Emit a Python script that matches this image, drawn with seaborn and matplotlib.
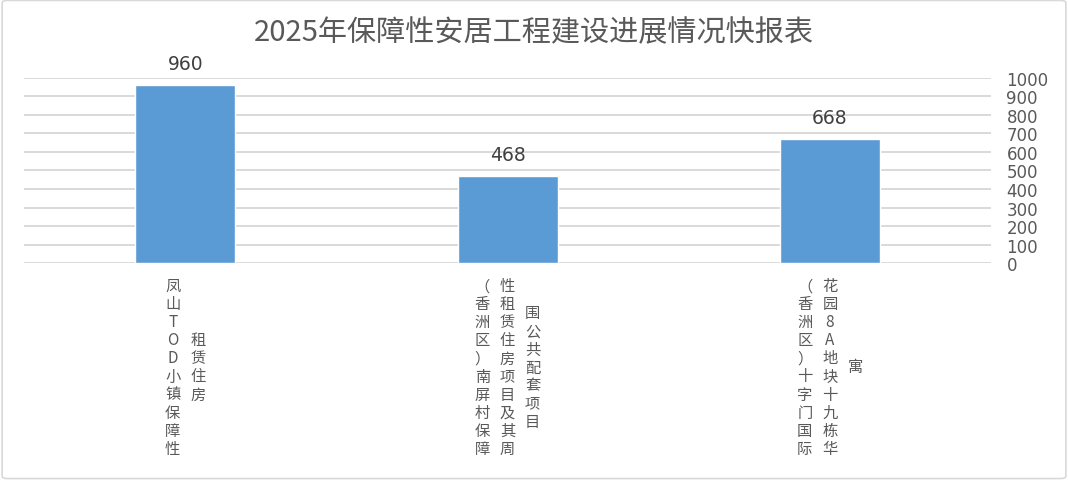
import matplotlib
matplotlib.use("Agg")
import matplotlib.pyplot as plt
import matplotlib.transforms as mtransforms
from matplotlib.patches import FancyBboxPatch
import seaborn as sns
import pandas as pd

# ---- data ----
categories = [
    "凤山TOD小镇保障性租赁住房",
    "（香洲区）南屏村保障性租赁住房项目及其周围公共配套项目",
    "（香洲区）十字门国际花园8A地块十九栋华寓",
]
label_columns = [
    ["凤山TOD小镇保障性", "租赁住房"],
    ["（香洲区）南屏村保障", "性租赁住房项目及其周", "围公共配套项目"],
    ["（香洲区）十字门国际", "花园8A地块十九栋华", "寓"],
]
values = [960, 468, 668]
y_ticks = [0, 100, 200, 300, 400, 500, 600, 700, 800, 900, 1000]
title = "2025年保障性安居工程建设进展情况快报表"

df = pd.DataFrame({"项目": categories, "数值": values})

sns.set_theme(style="white")
plt.rcParams["font.family"] = ["Noto Sans CJK SC", "DejaVu Sans"]

text_color = "#595959"
grid_color = "#d9d9d9"
bar_color = "#5b9bd5"

fig = plt.figure(figsize=(10.68, 4.81), dpi=100)
ax = fig.add_axes([0.0225, 0.451, 0.9055, 0.385])

sns.barplot(data=df, x="项目", y="数值", order=categories, color=bar_color,
            width=0.31, saturation=1, ax=ax, zorder=3)

ax.set_ylim(0, 1000)
ax.set_xlim(-0.5, len(categories) - 0.5)
ax.set_yticks(y_ticks)
ax.yaxis.tick_right()
ax.tick_params(axis="y", length=0, pad=11, labelsize=12, labelcolor=text_color)
for lab in ax.get_yticklabels():
    lab.set_family("DejaVu Sans")
ax.set_xticks([])
ax.set_xlabel("")
ax.set_ylabel("")
for s in ax.spines.values():
    s.set_visible(False)
for yv in y_ticks:
    ax.axhline(yv, color=grid_color, lw=1.4, zorder=1)

for cont in ax.containers:
    ax.bar_label(cont, labels=[str(v) for v in values], padding=9,
                 fontsize=13.5, color="#404040", family="DejaVu Sans")

# vertical stacked category labels
trans = mtransforms.blended_transform_factory(ax.transData, fig.transFigure)
col_gap = 0.078
for i, cols in enumerate(label_columns):
    n = len(cols)
    for j, col in enumerate(cols):
        xpos = i + (j - (n - 1) / 2) * col_gap
        ax.text(xpos, 0.235, "\n".join(col), transform=trans, ha="center",
                va="center", fontsize=11, color=text_color, linespacing=1.08,
                multialignment="center")

fig.text(0.5, 0.93, title, ha="center", va="center", fontsize=21,
         color=text_color)

border = FancyBboxPatch((0.002, 0.003), 0.996, 0.994,
                        boxstyle="round,pad=0,rounding_size=0.005",
                        transform=fig.transFigure, fill=False,
                        edgecolor=grid_color, lw=1.2)
fig.patches.append(border)

fig.savefig("out.png", dpi=100, facecolor="white")
